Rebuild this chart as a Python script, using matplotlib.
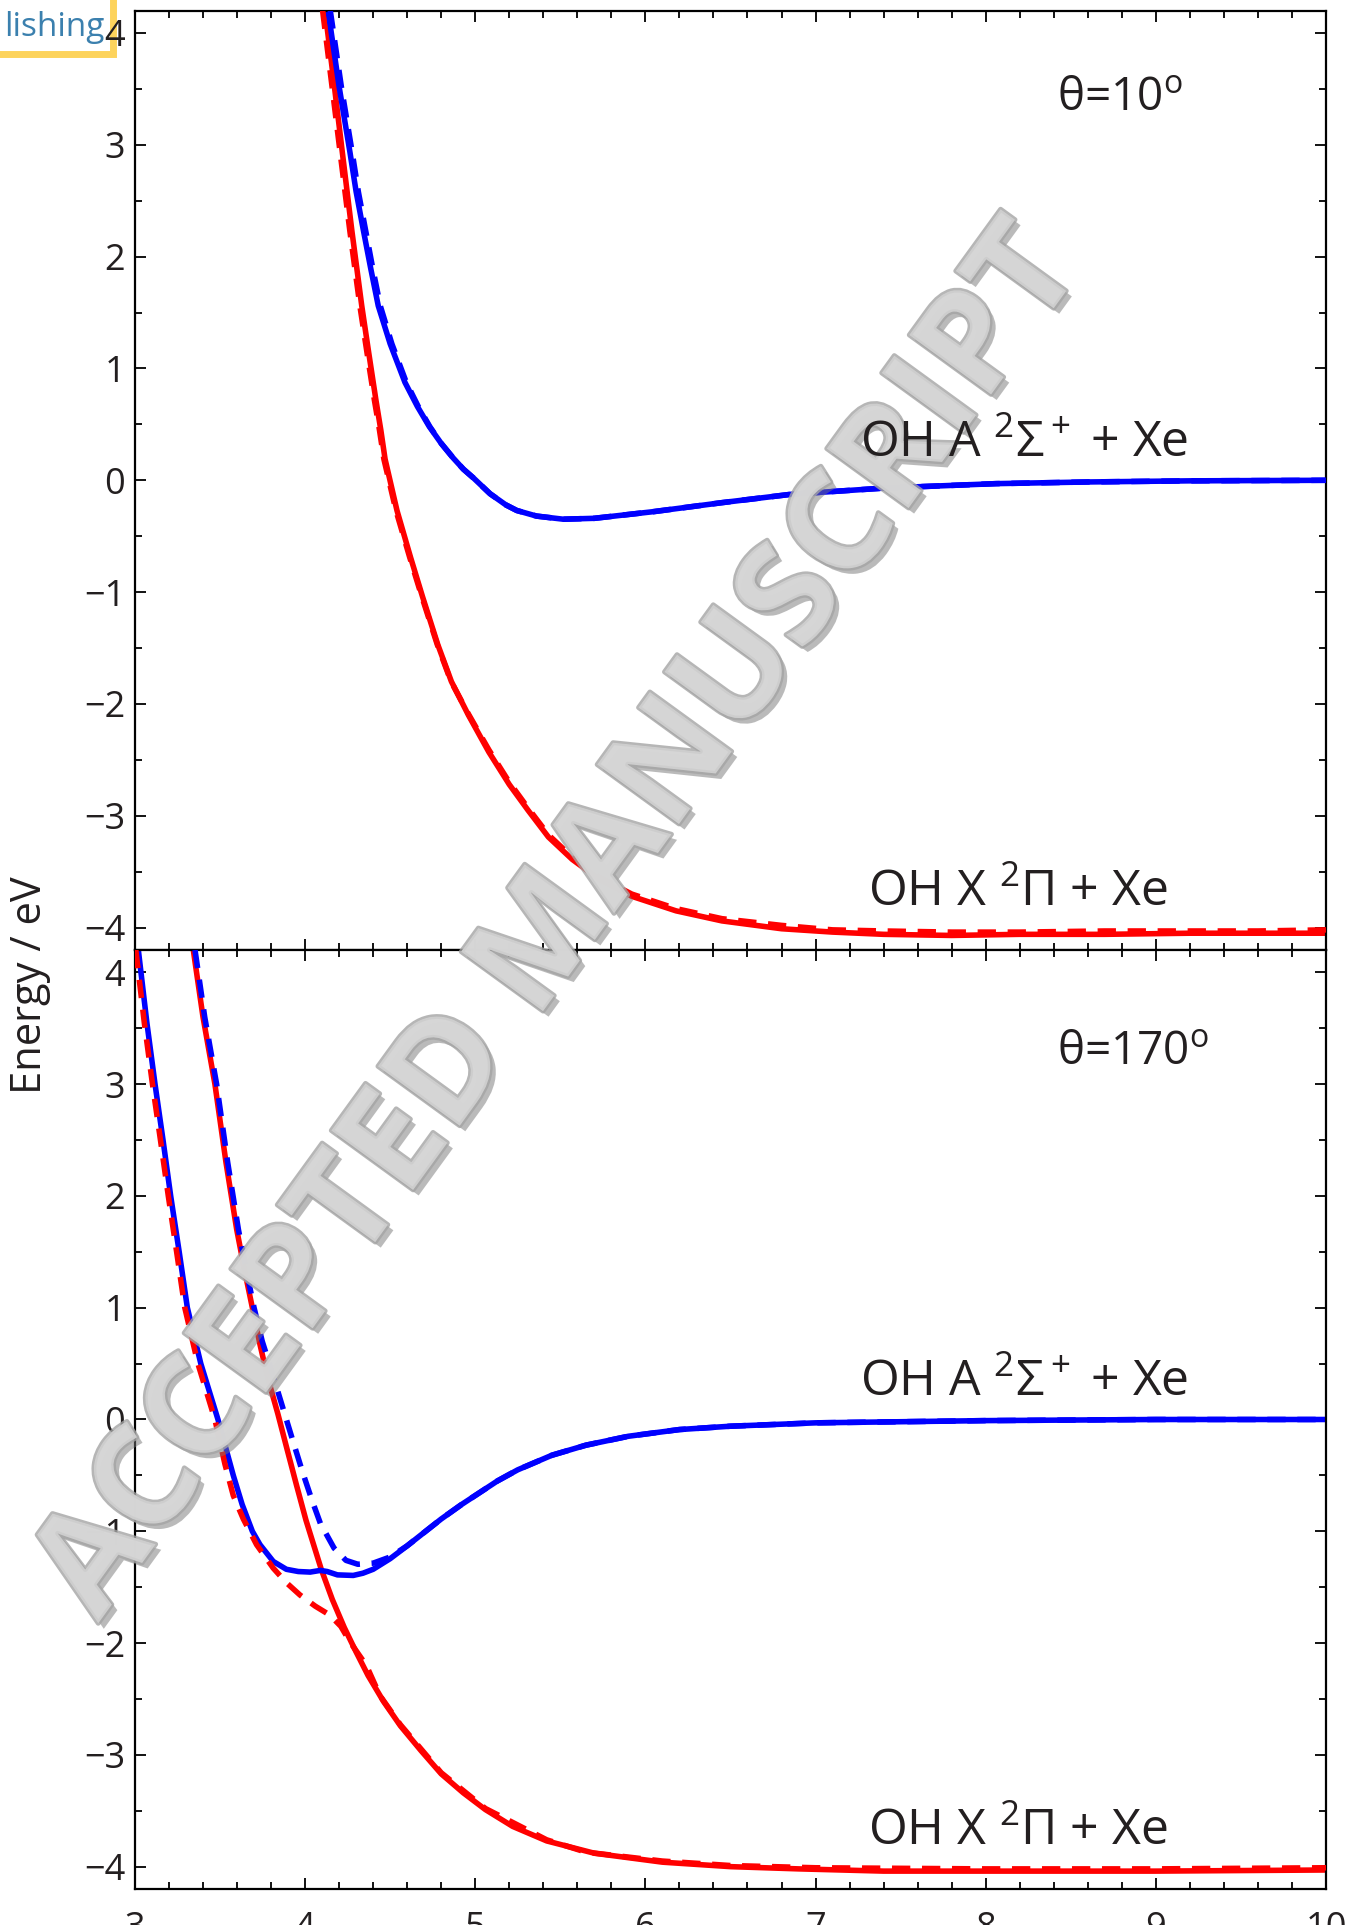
import matplotlib
matplotlib.use('Agg')
import matplotlib.pyplot as plt
import matplotlib.ticker as tck
from matplotlib import patheffects
from matplotlib.patches import Rectangle

plt.rcParams['font.family'] = ['Open Sans', 'DejaVu Sans']
plt.rcParams['mathtext.fontset'] = 'custom'
plt.rcParams['mathtext.rm'] = 'Open Sans'
plt.rcParams['mathtext.it'] = 'Open Sans:italic'
plt.rcParams['mathtext.bf'] = 'Open Sans:bold'

### theta = 10 deg (top panel)
top_red_x = [4.117, 4.17, 4.219, 4.275, 4.333, 4.375, 4.416, 4.445, 4.47, 4.54, 4.62, 4.69, 4.78, 4.86, 4.96, 5.08, 5.20,
             5.31, 5.43, 5.57, 5.73, 5.92, 6.18, 6.45, 6.8, 7.1, 7.4, 7.8, 8.2, 8.7, 9.2, 9.6, 10.0]
top_red_E = [4.2, 3.55, 2.93, 2.23, 1.56, 1.13, 0.72, 0.45, 0.19, -0.27, -0.69, -1.04, -1.47, -1.80, -2.10, -2.43, -2.72,
             -2.95, -3.19, -3.39, -3.57, -3.72, -3.85, -3.94, -4.01, -4.04, -4.06, -4.07, -4.06, -4.06, -4.05, -4.05, -4.05]

top_red_dash_x = [4.103, 4.156, 4.206, 4.263, 4.322, 4.365, 4.407, 4.437, 4.463, 4.534, 4.615, 4.686, 4.777, 4.858, 4.96,
                  5.08, 5.20, 5.31, 5.43, 5.57, 5.73, 5.92, 6.18, 6.45, 6.8, 7.1, 7.4, 7.8, 8.2, 8.7, 9.2, 9.6, 10.0]
top_red_dash_E = [4.2, 3.55, 2.93, 2.23, 1.56, 1.13, 0.72, 0.45, 0.19, -0.27, -0.69, -1.04, -1.47, -1.80, -2.09, -2.41,
                  -2.70, -2.93, -3.17, -3.37, -3.55, -3.70, -3.83, -3.92, -3.98, -4.02, -4.03, -4.04, -4.04, -4.03,
                  -4.03, -4.03, -4.02]

top_blue_x = [4.135, 4.20, 4.264, 4.30, 4.342, 4.385, 4.43, 4.50, 4.587, 4.66, 4.73, 4.80, 4.87, 4.93, 4.99, 5.087,
              5.18, 5.244, 5.36, 5.517, 5.70, 6.05, 6.45, 6.857, 7.4, 8.06, 8.6, 9.2, 10.0]
top_blue_E = [4.2, 3.52, 2.93, 2.58, 2.24, 1.90, 1.56, 1.22, 0.875, 0.66, 0.48, 0.33, 0.20, 0.10, 0.02, -0.12,
              -0.22, -0.27, -0.32, -0.348, -0.34, -0.28, -0.20, -0.125, -0.07, -0.03, -0.015, -0.005, 0.0]

top_blue_dash_x = [4.148, 4.213, 4.277, 4.313, 4.355, 4.397, 4.442, 4.51, 4.595, 4.665, 4.733, 4.80, 4.87, 4.93, 4.99,
                   5.087, 5.18, 5.244, 5.36, 5.517, 5.70, 6.05, 6.45, 6.857, 7.4, 8.06, 8.6, 9.2, 10.0]
top_blue_dash_E = top_blue_E

### theta = 170 deg (bottom panel)
bot_blue_x = [3.02, 3.07, 3.118, 3.165, 3.21, 3.26, 3.308, 3.387, 3.488, 3.578, 3.63, 3.69, 3.735, 3.813, 3.89, 3.96,
              4.03, 4.09, 4.13, 4.19, 4.283, 4.34, 4.40, 4.50, 4.60, 4.70, 4.80, 4.92, 5.03, 5.13, 5.25, 5.45, 5.65,
              5.90, 6.2, 6.5, 7.0, 7.5, 8.0, 9.0, 10.0]
bot_blue_E = [4.2, 3.55, 3.0, 2.5, 2.0, 1.5, 1.0, 0.5, 0.0, -0.5, -0.76, -1.0, -1.12, -1.27, -1.34, -1.36,
              -1.365, -1.35, -1.36, -1.39, -1.395, -1.375, -1.34, -1.245, -1.13, -1.01, -0.89, -0.76, -0.65, -0.55,
              -0.45, -0.32, -0.23, -0.15, -0.09, -0.06, -0.03, -0.02, -0.01, 0.0, 0.0]

bot_red_dash_x = [3.005, 3.055, 3.103, 3.15, 3.196, 3.245, 3.293, 3.37, 3.47, 3.529, 3.578, 3.637, 3.715, 3.813, 3.89,
                  3.97, 4.06, 4.146, 4.21, 4.264, 4.36, 4.44, 4.56, 4.80, 5.06, 5.42, 5.65, 6.1, 6.5, 7.0, 8.0, 9.0, 10.0]
bot_red_dash_E = [4.2, 3.55, 3.0, 2.5, 2.0, 1.5, 1.0, 0.5, 0.0, -0.40, -0.68, -0.89, -1.12, -1.33, -1.46,
                  -1.57, -1.67, -1.75, -1.85, -1.99, -2.2, -2.47, -2.73, -3.16, -3.48, -3.76, -3.87, -3.95, -3.99,
                  -4.01, -4.02, -4.02, -4.01]

bot_red_x = [3.343, 3.40, 3.47, 3.535, 3.598, 3.645, 3.69, 3.735, 3.78, 3.84, 3.893, 3.95, 4.005, 4.05, 4.095, 4.16,
             4.23, 4.30, 4.37, 4.46, 4.56, 4.68, 4.80, 4.93, 5.06, 5.22, 5.42, 5.70, 6.1, 6.5, 6.9, 7.4, 8.0, 9.0, 10.0]
bot_red_E = [4.2, 3.6, 3.0, 2.3, 1.70, 1.33, 1.0, 0.67, 0.375, 0.05, -0.26, -0.59, -0.90, -1.12, -1.34, -1.61,
             -1.86, -2.08, -2.29, -2.52, -2.74, -2.96, -3.17, -3.34, -3.49, -3.64, -3.77, -3.88, -3.96, -4.00, -4.02,
             -4.04, -4.04, -4.04, -4.03]

bot_blue_dash_x = [3.353, 3.41, 3.48, 3.545, 3.608, 3.655, 3.70, 3.748, 3.80, 3.86, 3.93, 3.985, 4.04, 4.09, 4.17,
                   4.24, 4.31, 4.40, 4.50, 4.60, 4.70, 4.80, 4.92, 5.03, 5.13, 5.25, 5.45, 5.65, 5.90, 6.2, 6.5,
                   7.0, 7.5, 8.0, 9.0, 10.0]
bot_blue_dash_E = [4.2, 3.6, 3.0, 2.3, 1.70, 1.33, 1.0, 0.70, 0.45, 0.15, -0.20, -0.47, -0.72, -0.93, -1.15,
                   -1.26, -1.295, -1.285, -1.23, -1.13, -1.01, -0.89, -0.76, -0.65, -0.55, -0.45, -0.32, -0.23,
                   -0.15, -0.09, -0.06, -0.03, -0.02, -0.01, 0.0, 0.0]

state_A = 'OH A $^2\\Sigma^+$ + Xe'
state_X = 'OH X $^2\\Pi$ + Xe'
angle_labels = ['θ=10$^{\\rm o}$', 'θ=170$^{\\rm o}$']

lw = 4.0
dash = (0, (3.3, 2.1))
fontsz = 26
txtcol = '#231f20'

##########################################################################
fig = plt.figure(figsize=(13.59, 19.25), dpi=100)
ax1 = fig.add_axes([0.0993, 0.5065, 0.8764, 0.4880])
ax2 = fig.add_axes([0.0993, 0.0187, 0.8764, 0.4878])

for ax in (ax1, ax2):
    ax.set_xlim(3, 10)
    ax.set_ylim(-4.2, 4.2)
    ax.set_xticks(range(3, 11))
    ax.set_yticks(range(-4, 5))
    ax.xaxis.set_minor_locator(tck.MultipleLocator(0.2))
    ax.yaxis.set_minor_locator(tck.MultipleLocator(0.5))
    ax.tick_params(which='both', direction='in', top=True, right=True, width=1.3, labelsize=fontsz,
                   labelcolor=txtcol)
    ax.tick_params(which='major', length=8)
    ax.tick_params(which='minor', length=4.8)
    ax.tick_params(axis='y', pad=7)
    ax.tick_params(axis='x', pad=16)
    for sp in ax.spines.values():
        sp.set_linewidth(1.6)

ax1.tick_params(labelbottom=False)

### top panel
ax1.plot(top_red_x, top_red_E, color='#ff0000', lw=lw, zorder=2)
ax1.plot(top_blue_x, top_blue_E, color='#0000ff', lw=lw, zorder=2)
ax1.plot(top_red_dash_x, top_red_dash_E, color='#ff0000', lw=lw, ls=dash, zorder=3)
ax1.plot(top_blue_dash_x, top_blue_dash_E, color='#0000ff', lw=lw, ls=dash, zorder=3)

### bottom panel
ax2.plot(bot_red_x, bot_red_E, color='#ff0000', lw=lw, zorder=2)
ax2.plot(bot_blue_x, bot_blue_E, color='#0000ff', lw=lw, zorder=2)
ax2.plot(bot_red_dash_x, bot_red_dash_E, color='#ff0000', lw=lw, ls=dash, zorder=3)
ax2.plot(bot_blue_dash_x, bot_blue_dash_E, color='#0000ff', lw=lw, ls=dash, zorder=3)

### state labels sit above the watermark, so put them on the figure in data coords
for ax, lab, ypos in zip((ax1, ax2), angle_labels, (3.31, 3.18)):
    fig.text(7.26, 0.21, state_A, transform=ax.transData, fontsize=36, va='baseline', color=txtcol, zorder=30)
    fig.text(7.31, -3.81, state_X, transform=ax.transData, fontsize=36, va='baseline', color=txtcol, zorder=30)
    fig.text(8.42, ypos, lab, transform=ax.transData, fontsize=33, va='baseline', color=txtcol, zorder=30)

fig.text(30 / 1359, 1 - 985 / 1925, 'Energy / eV', rotation=90, fontsize=30,
         ha='center', va='center', color=txtcol)

### watermark
fig.text(0.413, 0.5205, 'ACCEPTED MANUSCRIPT', fontsize=102, fontweight='bold', color='#d6d6d6',
         rotation=54, rotation_mode='anchor', ha='center', va='center', alpha=0.8, zorder=20,
         path_effects=[patheffects.withSimplePatchShadow(offset=(4, -4), shadow_rgbFace='#777777', alpha=0.5),
                       patheffects.Stroke(linewidth=3.5, foreground='#a4a4a4'),
                       patheffects.Normal()])

### cut-off publisher logo
fig.add_artist(Rectangle((-0.03, 1 - 54 / 1925), 0.03 + 113 / 1359, 0.05, transform=fig.transFigure,
                         facecolor='white', edgecolor='#fdd35c', lw=5, zorder=-1))
fig.text(104 / 1359, 1 - 36 / 1925, 'lishing', color='#3b80ae', fontsize=24, ha='right', va='baseline', zorder=-1)

plt.savefig('out.png', dpi=100)
